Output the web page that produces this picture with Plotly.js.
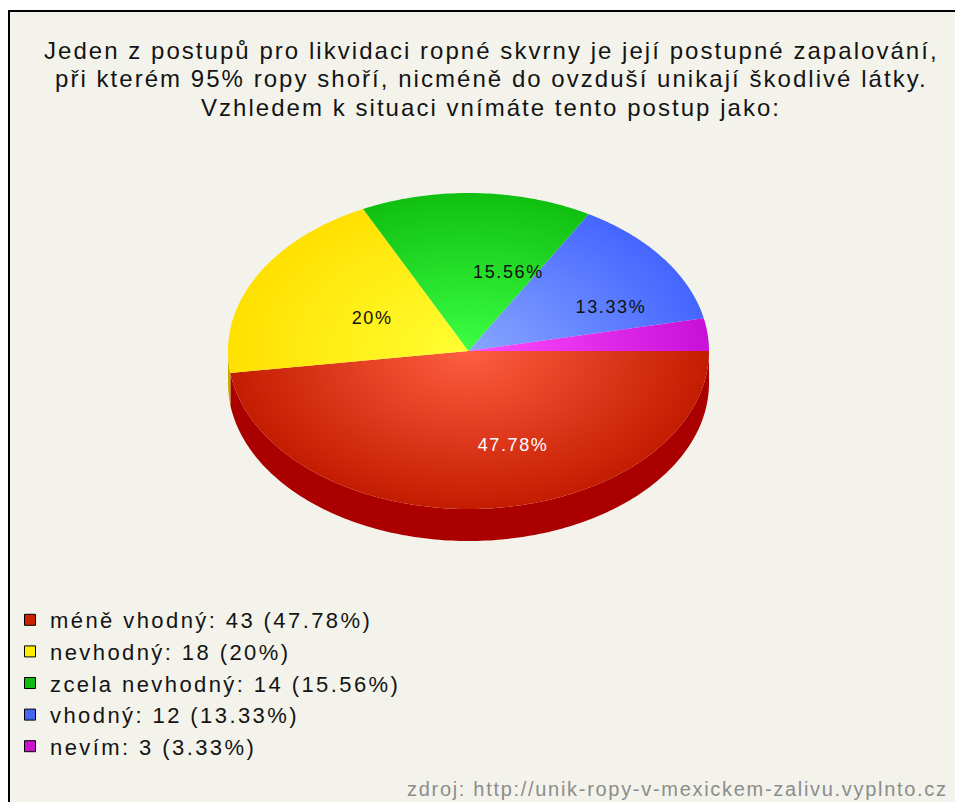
<!DOCTYPE html>
<html><head><meta charset="utf-8">
<script src="https://cdn.plot.ly/plotly-3.0.1.min.js"></script>
<style>
html,body{margin:0;padding:0;background:#fff}
text.annotation-text{letter-spacing:0.085em}
text.legendtext{letter-spacing:0.11em}
text.textpoint, .textpoint text{letter-spacing:0.09em}
</style>
</head><body><div id="chart" style="width:955px;height:802px"></div>
<script>
// ---- data ----
const titleLines = [
  'Jeden z postupů pro likvidaci ropné skvrny je její postupné zapalování,',
  'při kterém 95% ropy shoří, nicméně do ovzduší unikají škodlivé látky.',
  'Vzhledem k situaci vnímáte tento postup jako:'
];
const categories = ['méně vhodný', 'nevhodný', 'zcela nevhodný', 'vhodný', 'nevím'];
const counts = [43, 18, 14, 12, 3];
const sourceText = 'zdroj: http://unik-ropy-v-mexickem-zalivu.vyplnto.cz';

// ---- styles ----
const centerColors = ['#ff5e40', '#ffff33', '#3cff44', '#88a6ff', '#ff4cff'];
const edgeColors   = ['#c41c00', '#ffe000', '#10c010', '#4466ff', '#c810d8'];
const wallColors   = ['#aa0000', '#c8b000', '#0a900a', '#2a44c0', '#900099'];
const legendColors = ['#cc2200', '#ffee00', '#11bb11', '#4466ee', '#cc11cc'];
const labelColors  = ['#ffffff', '#111111', '#111111', '#111111', '#111111'];
const FONT = 'Liberation Sans, Arial, sans-serif';

const W = 955, H = 802;
const CX = 468.5, CY = 351, RX = 240.5, RY = 158, DEPTH = 32;

const total = counts.reduce((a, b) => a + b, 0);
const pcts = counts.map(c => Math.round(c / total * 10000) / 100);

function pt(deg, dy) {
  const r = deg * Math.PI / 180;
  return [CX + RX * Math.cos(r), CY + RY * Math.sin(r) + (dy || 0)];
}
function arc(a0, a1, dy) {
  const n = Math.max(2, Math.ceil(Math.abs(a1 - a0)));
  const out = [];
  for (let k = 0; k <= n; k++) out.push(pt(a0 + (a1 - a0) * k / n, dy));
  return out;
}

const traces = [];
let acc = 0;
const angles = counts.map((c, i) => {
  const a0 = acc / total * 360; acc += c;
  return [a0, acc / total * 360];
});

// side walls (front half only)
angles.forEach(([a0, a1], i) => {
  const s = Math.max(a0, 0), e = Math.min(a1, 180);
  if (e <= s) return;
  const pts = arc(s, e, 0).concat(arc(e, s, DEPTH));
  traces.push({
    type: 'scatter', mode: 'none', fill: 'toself', fillcolor: wallColors[i],
    x: pts.map(p => p[0]), y: pts.map(p => p[1]), showlegend: false, hoverinfo: 'skip'
  });
});

// top faces with radial gradient centred on the pie
angles.forEach(([a0, a1], i) => {
  let pts = [[CX, CY]].concat(arc(a0, a1, 0));
  pts.push([CX, CY]);
  [0, 90, 180, 270].forEach(a => { pts.push(pt(a, 0)); pts.push([CX, CY]); });
  traces.push({
    type: 'scatter', mode: 'none', fill: 'toself', fillcolor: edgeColors[i],
    fillgradient: { type: 'radial', colorscale: [[0, centerColors[i]], [1, edgeColors[i]]] },
    x: pts.map(p => p[0]), y: pts.map(p => p[1]), showlegend: false, hoverinfo: 'skip'
  });
});

// percentage labels
const lx = [], ly = [], lt = [], lc = [];
angles.forEach(([a0, a1], i) => {
  if (pcts[i] < 5) return;
  const m = (a0 + a1) / 2 * Math.PI / 180;
  lx.push(CX + 0.55 * RX * Math.cos(m));
  ly.push(CY + 0.55 * RY * Math.sin(m));
  lt.push(pcts[i] + '%');
  lc.push(labelColors[i]);
});
traces.push({
  type: 'scatter', mode: 'text', x: lx, y: ly, text: lt, textposition: 'bottom right',
  textfont: { family: FONT, size: 18, color: lc }, showlegend: false, hoverinfo: 'skip'
});

// legend entries
categories.forEach((c, i) => {
  traces.push({
    type: 'scatter', mode: 'markers', x: [null], y: [null],
    name: c + ': ' + counts[i] + ' (' + pcts[i] + '%)',
    marker: { symbol: 'square', size: 11, color: legendColors[i], line: { color: '#000', width: 1 } },
    showlegend: true, hoverinfo: 'skip'
  });
});

const annotations = titleLines.map((t, k) => ({
  xref: 'x', yref: 'y', x: 491, y: 50 + 28.5 * k, text: t, showarrow: false,
  xanchor: 'center', yanchor: 'middle', font: { family: FONT, size: 24, color: '#141414' }
}));
annotations.push({
  xref: 'x', yref: 'y', x: 950, y: 789, text: sourceText, showarrow: false,
  xanchor: 'right', yanchor: 'middle', font: { family: FONT, size: 20, color: '#8c8c8c' }
});

const layout = {
  width: W, height: H, margin: { l: 0, r: 0, t: 0, b: 0 },
  paper_bgcolor: '#ffffff', plot_bgcolor: 'rgba(0,0,0,0)',
  xaxis: { range: [0, W], visible: false, fixedrange: true },
  yaxis: { range: [H, 0], visible: false, fixedrange: true },
  showlegend: true,
  legend: {
    x: 10 / W, y: 1 - 599 / H, xanchor: 'left', yanchor: 'top',
    bgcolor: 'rgba(0,0,0,0)', font: { family: FONT, size: 22, color: '#141414' },
    traceorder: 'normal', itemclick: false, itemdoubleclick: false
  },
  shapes: [{
    type: 'rect', xref: 'x', yref: 'y', x0: 9, y0: 11, x1: W + 5, y1: H + 5,
    fillcolor: '#f3f3eb', line: { color: '#000', width: 2 }, layer: 'below'
  }],
  annotations: annotations,
  hovermode: false
};

Plotly.newPlot('chart', traces, layout, { displayModeBar: false, staticPlot: true });
</script></body></html>
